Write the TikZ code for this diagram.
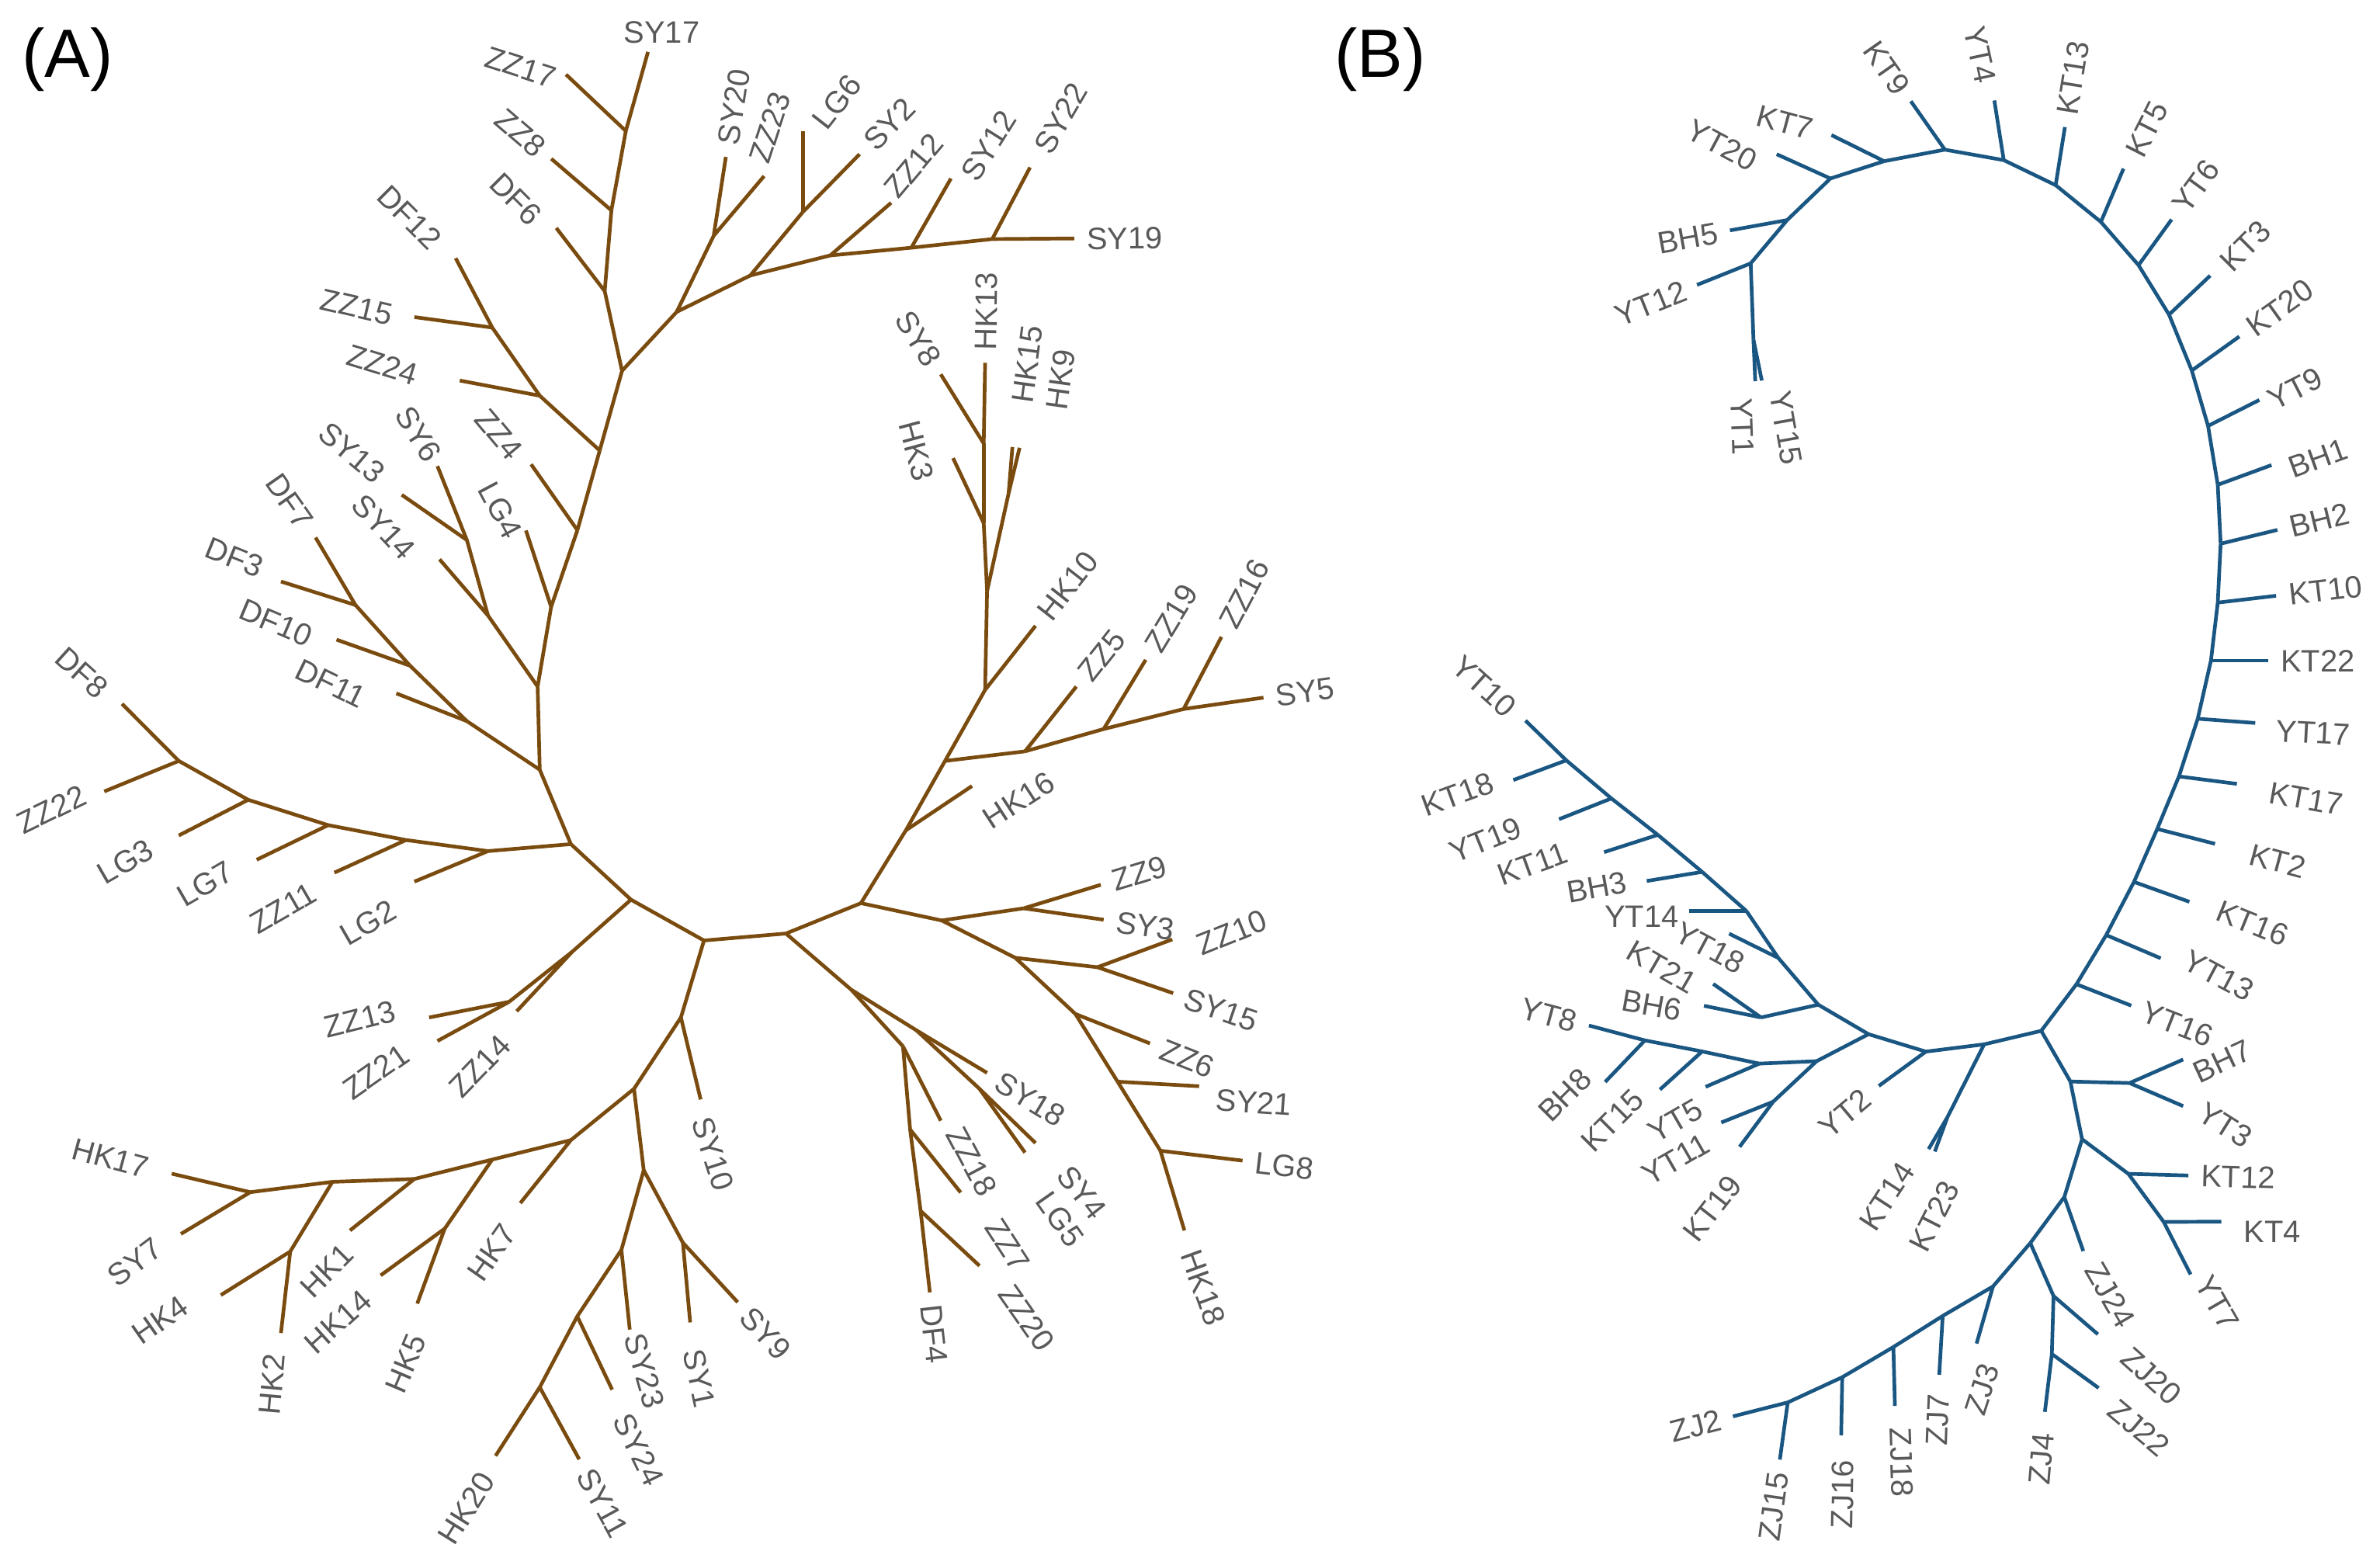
\documentclass[tikz,border=0pt]{standalone}
\usepackage{fontspec}
\setmainfont{Liberation Sans}
\definecolor{treebrown}{RGB}{122,75,15}
\definecolor{treeblue}{RGB}{26,86,130}
\definecolor{labgray}{RGB}{89,89,89}
\tikzset{
  lab/.style={font=\fontsize{10.2}{11}\selectfont,text=labgray,inner xsep=4pt,inner ysep=0pt,text height=7.3pt,text depth=0pt},
  panel/.style={font=\fontsize{22.5}{25}\selectfont,inner sep=0pt,anchor=base west}
}
\newcommand\fork[3]{\coordinate (#1) at (#3); \draw[br] (#2) -- (#1);}
\newcommand\leaf[4]{%
  \coordinate (#1) at (#3);
  \draw[br] (#2) -- (#1);
  \pgfmathanglebetweenpoints{\pgfpointanchor{#2}{center}}{\pgfpointanchor{#1}{center}}%
  \let\lfang\pgfmathresult
  \def\lfanc{west}%
  \ifdim\lfang pt>90pt\relax
    \ifdim\lfang pt<270pt\relax
      \pgfmathsetmacro\lfang{\lfang-180}\def\lfanc{east}%
    \fi
  \fi
  \node[lab,rotate=\lfang,anchor=\lfanc] (t#1) at (#1) {#4};
}
\newcommand\leafat[6]{%
  \coordinate (#1) at (#3);
  \draw[br] (#2) -- (#1);
  \node[lab,rotate=#5] (t#1) at (#4) {#6};
}

\begin{document}
\begin{tikzpicture}[x=0.5pt,y=-0.5pt]
\useasboundingbox (0,0) rectangle (1568,1031);

\node[panel] (panA) at (14,51) {(A)};
\node[panel] (panB) at (879,51) {(B)};

\begin{scope}[br/.style={draw=treebrown,line width=1.2pt}]
\coordinate (a10) at (376.1,556.1);
\fork{a9}{a10}{355.6,507.1}
\fork{a8}{a9}{354.2,452.3}
\fork{a7}{a8}{363.1,399.8}
\fork{a6}{a7}{380.4,349.3}
\fork{a5}{a6}{395.1,296.8}
\fork{a4}{a5}{409.8,244.3}
\fork{a3}{a4}{398.4,191.8}
\fork{a2}{a3}{402.8,138.6}
\fork{a1}{a2}{412.3,86.3}
\leafat{SY17}{a1}{426.9,34.2}{436,21}{0}{SY17}
\leafat{ZZ17}{a1}{372.9,49.1}{343,44}{-18}{ZZ17}
\leaf{ZZ8}{a2}{363.2,104.6}{ZZ8}
\leafat{DF6}{a3}{366.5,150.2}{340,131}{-45}{DF6}
\leafat{ZZ4}{a6}{349.9,305.9}{329,286}{-50}{ZZ4}
\leafat{LG4}{a7}{346.5,349.5}{330,336}{-62}{LG4}
\fork{m1}{a5}{355.6,260.7}
\fork{m2}{m1}{324.3,215.8}
\leafat{DF12}{m2}{300.2,170.1}{270,143}{-45}{DF12}
\leafat{ZZ15}{m2}{273,208.9}{235,202}{-13}{ZZ15}
\leafat{ZZ24}{m1}{302.9,250.7}{252,240}{-17}{ZZ24}
\fork{k1}{a8}{321.5,405.5}
\leafat{SY14}{k1}{289.6,368.5}{253,347}{-47}{SY14}
\fork{k2}{k1}{307.6,355.8}
\leafat{SY6}{k2}{288.2,307.1}{276,286}{-58}{SY6}
\leafat{SY13}{k2}{264.7,326}{232,298}{-40}{SY13}
\fork{p1}{a9}{307.6,475.1}
\leafat{DF11}{p1}{261.1,456.8}{218,450}{-26}{DF11}
\fork{p2}{p1}{270.2,438.6}
\leafat{DF10}{p2}{221.7,421.4}{182,410}{-23}{DF10}
\fork{p3}{p2}{234.2,398.6}
\leafat{DF3}{p3}{185.1,383.1}{154.5,367}{-22}{DF3}
\leafat{DF7}{p3}{207.9,354.1}{191,330}{-55}{DF7}
\fork{q1}{a10}{321.5,560.7}
\leafat{LG2}{q1}{273,580.8}{242.5,607.5}{30}{LG2}
\fork{q2}{q1}{267.5,553.4}
\leafat{ZZ11}{q2}{220.3,574.9}{186.5,598}{30}{ZZ11}
\fork{q3}{q2}{216.2,543.6}
\leafat{LG7}{q3}{169.1,566.4}{135,582}{30}{LG7}
\fork{q4}{q3}{163.5,526.9}
\leafat{LG3}{q4}{117.8,550.4}{82.5,567.5}{30}{LG3}
\fork{q5}{q4}{117.8,501.3}
\leafat{ZZ22}{q5}{68.7,521.4}{34,533}{26}{ZZ22}
\leafat{DF8}{q5}{80.4,463.7}{54,443}{-42}{DF8}
\fork{z1}{a10}{415.7,592.7}
\fork{z2}{z1}{377,627}
\leafat{ZZ14}{z2}{340.4,666.2}{316,702}{46}{ZZ14}
\fork{z3}{z2}{335.4,660}
\leafat{ZZ13}{z3}{282.7,670.3}{237,671}{14}{ZZ13}
\leafat{ZZ21}{z3}{288.2,685.8}{247.5,706}{35}{ZZ21}
\fork{a11}{z1}{463.8,619.6}
\fork{s1}{a11}{448.6,670.3}
\leafat{SY10}{s1}{461.6,724.3}{470,760}{-72}{SY10}
\fork{s2}{s1}{417.7,717.3}
\fork{h1}{s2}{376.1,751.1}
\leafat{HK7}{h1}{342.8,792.6}{323.7,825}{55}{HK7}
\fork{h2}{h1}{324.3,763.9}
\fork{h3}{h2}{293,809.4}
\leafat{HK14}{h3}{250.8,840.2}{222.5,870.5}{42}{HK14}
\leafat{HK5}{h3}{274.9,858.8}{267,898}{67}{HK5}
\fork{h4}{h2}{273,776.7}
\leafat{HK1}{h4}{230.6,810.6}{215,837}{45}{HK1}
\fork{h5}{h4}{219,778.6}
\fork{h6}{h5}{191.2,824.5}
\leafat{HK4}{h6}{145.5,853.2}{105.4,869.4}{35}{HK4}
\leafat{HK2}{h6}{185.1,878.2}{179,912}{85}{HK2}
\fork{h7}{h5}{164.9,785.4}
\leafat{HK17}{h7}{113.1,773.2}{72.7,762.7}{-15}{HK17}
\leafat{SY7}{h7}{119.2,812.9}{88.7,831.5}{37}{SY7}
\fork{s3}{s2}{424.1,770.9}
\fork{y1}{s3}{449.9,818.7}
\leafat{SY1}{y1}{454.7,871.2}{461,908}{-78}{SY1}
\leaf{SY9}{y1}{486,857.9}{SY9}
\fork{s4}{s3}{409.4,823.4}
\leafat{SY23}{s4}{414.9,875.9}{425,903}{-74}{SY23}
\fork{s5}{s4}{380.3,867.2}
\leafat{SY24}{s5}{403.3,915.5}{421,955}{-64}{SY24}
\fork{s6}{s5}{355.6,913.9}
\leafat{HK20}{s6}{326.5,959.1}{307,993.5}{58}{HK20}
\leaf{SY11}{s6}{381.6,961.4}{SY11}
\fork{r1}{a11}{517.8,615}
\fork{r2}{r1}{567.2,595}
\fork{w0}{r1}{560.8,652}
\fork{w1}{w0}{594.9,689.3}
\leafat{ZZ18}{w1}{619.8,738.3}{640.5,765}{-62}{ZZ18}
\fork{x1}{w1}{599.6,744.1}
\leafat{ZZ7}{x1}{632.9,785.6}{664,820}{-57}{ZZ7}
\fork{x2}{x1}{606.5,797.7}
\leafat{ZZ20}{x2}{645.3,833.9}{676.5,868}{-55}{ZZ20}
\leaf{DF4}{x2}{612.6,851.4}{DF4}
\fork{w2}{w0}{603.8,678.8}
\leaf{SY18}{w2}{650.3,706.8}{SY18}
\fork{w3}{w2}{645.3,717.3}
\leafat{SY4}{w3}{682.2,753}{713,785.5}{-52}{SY4}
\leafat{LG5}{w3}{675.3,759.3}{698.7,803}{-55}{LG5}
\fork{t1}{r2}{596.8,547}
\leafat{HK16}{t1}{640.4,517.8}{671,527}{33}{HK16}
\fork{t2}{t1}{622.6,501.3}
\fork{t3}{t2}{649,454.5}
\leaf{HK10}{t3}{682.2,412.3}{HK10}
\fork{b0}{t3}{650.3,389.5}
\fork{b1}{b0}{648.1,344.7}
\leafat{HK3}{b1}{627.9,301.8}{604,297}{-75}{HK3}
\fork{b2}{b1}{648.1,292.2}
\leaf{SY8}{b2}{619.8,246.6}{SY8}
\leaf{HK13}{b2}{649,239}{HK13}
\fork{b3}{b0}{664.5,325}
\leafat{HK15}{b3}{667,294.5}{676.5,240}{82}{HK15}
\leafat{HK9}{b3}{671.7,295}{698.7,250}{82}{HK9}
\fork{u1}{t2}{675.3,495}
\leaf{ZZ5}{u1}{709.1,452.3}{ZZ5}
\fork{u2}{u1}{727.1,480.3}
\leaf{ZZ19}{u2}{754.8,434.7}{ZZ19}
\fork{u3}{u2}{779.8,467.1}
\leaf{ZZ16}{u3}{804.7,419.6}{ZZ16}
\leaf{SY5}{u3}{832.4,459.6}{SY5}
\fork{v1}{r2}{620.4,606.4}
\fork{v2}{v1}{674.4,598.4}
\leaf{ZZ9}{v2}{725.2,582.9}{ZZ9}
\leaf{SY3}{v2}{727.1,605.9}{SY3}
\fork{v3}{v1}{668.9,631}
\fork{v4}{v3}{723,637.2}
\leafat{ZZ10}{v4}{772.3,618.9}{811.5,614}{22}{ZZ10}
\leaf{SY15}{v4}{772.9,654.3}{SY15}
\fork{v5}{v3}{708.5,668}
\leaf{ZZ6}{v5}{757.6,687.4}{ZZ6}
\fork{v6}{v5}{736.3,712.6}
\leafat{SY21}{v6}{790,715.6}{826,726}{-4}{SY21}
\fork{v7}{v6}{764.5,758.1}
\leaf{LG8}{v7}{818.6,764.6}{LG8}
\leafat{HK18}{v7}{780.3,810.6}{793,848}{-70}{HK18}
\fork{c1a}{a4}{445.8,205.5}
\fork{c2a}{c1a}{470.2,155.3}
\leaf{SY20}{c2a}{478.2,103.4}{SY20}
\leafat{ZZ23}{c2a}{503.4,116}{507,84}{72}{ZZ23}
\fork{c3a}{c1a}{494.3,181.5}
\fork{c4a}{c3a}{528.9,139.7}
\leafat{LG6}{c4a}{528.9,86.3}{551,67}{52}{LG6}
\leaf{SY2}{c4a}{566.3,101.6}{SY2}
\fork{c5a}{c3a}{547,168.3}
\leafat{ZZ12}{c5a}{587.1,133.6}{601.7,109}{50}{ZZ12}
\fork{c6a}{c5a}{600.4,163.2}
\leafat{SY12}{c6a}{626.5,117.6}{651,96}{58}{SY12}
\fork{c7a}{c6a}{653.7,157.5}
\leafat{SY22}{c7a}{678.6,110.3}{698.7,78}{60}{SY22}
\leaf{SY19}{c7a}{707.7,157.1}{SY19}
\end{scope}

\begin{scope}[br/.style={draw=treeblue,line width=1.2pt}]
\coordinate (c24) at (1344.8,679.1);
\fork{c23}{c24}{1368,648.4}
\leaf{YT16}{c23}{1404.1,662.5}{YT16}
\fork{c22}{c23}{1387.6,616}
\leafat{YT13}{c22}{1423.5,631.3}{1462,642.5}{-28}{YT13}
\fork{c21}{c22}{1405.9,581}
\leafat{KT16}{c21}{1442.4,594.1}{1484,608}{-22}{KT16}
\fork{c20}{c21}{1421.2,546.1}
\leafat{KT2}{c20}{1459.3,555.9}{1500.5,567}{-15}{KT2}
\fork{c19}{c20}{1435.5,511.5}
\leafat{KT17}{c19}{1473.7,516.4}{1519.4,526}{-10}{KT17}
\fork{c18}{c19}{1447.9,473.5}
\leafat{YT17}{c18}{1485.8,476.3}{1524,482.5}{-3}{YT17}
\fork{c17}{c18}{1456.6,435.2}
\leaf{KT22}{c17}{1494.2,435.2}{KT22}
\fork{c16}{c17}{1461.1,397}
\leaf{KT10}{c16}{1499.5,392.5}{KT10}
\fork{c15}{c16}{1463,358.2}
\leaf{BH2}{c15}{1500.4,349.1}{BH2}
\fork{c14}{c15}{1461.1,319.4}
\leafat{BH1}{c14}{1496.5,306.4}{1527,301.5}{20}{BH1}
\fork{c13}{c14}{1454.7,280.6}
\leafat{YT9}{c13}{1488.5,263.5}{1512,256}{27}{YT9}
\fork{c12}{c13}{1444,244.1}
\leaf{KT20}{c12}{1475.3,221.7}{KT20}
\fork{c10}{c12}{1429,207.3}
\leafat{KT3}{c10}{1456.1,181.6}{1479,162}{45}{KT3}
\fork{c9}{c10}{1408.9,174.7}
\leaf{YT6}{c9}{1430.7,144.6}{YT6}
\fork{c8}{c9}{1384.1,146.2}
\leafat{KT5}{c8}{1399,111.1}{1414,85}{63}{KT5}
\fork{c7}{c8}{1354.3,122}
\leaf{KT13}{c7}{1360.4,83.7}{KT13}
\fork{c6}{c7}{1320.1,105.5}
\leafat{YT4}{c6}{1313.9,66.2}{1304.7,36}{-78}{YT4}
\fork{c5}{c6}{1281.3,98.6}
\leaf{KT9}{c5}{1258.9,66.7}{KT9}
\fork{c4}{c5}{1241.3,106.2}
\leafat{KT7}{c4}{1206.6,89}{1176,80.5}{-15}{KT7}
\fork{c3}{c4}{1205.9,117.6}
\leafat{YT20}{c3}{1170.5,101.6}{1134.6,95.4}{-28}{YT20}
\fork{c2}{c3}{1177.4,145}
\leaf{BH5}{c2}{1139.7,151.8}{BH5}
\fork{c0}{c2}{1153.4,173.5}
\leaf{YT12}{c0}{1118,187.7}{YT12}
\fork{c1}{c0}{1155.2,223.7}
\leafat{YT1}{c1}{1156.4,251.1}{1148,281}{-88}{YT1}
\leafat{YT15}{c1}{1160.7,250.7}{1177,282}{-80}{YT15}
\fork{c25}{c24}{1364,712.5}
\fork{c26}{c25}{1403,713.5}
\leafat{BH7}{c26}{1438.3,698}{1464,699}{25}{BH7}
\leafat{YT3}{c26}{1438.3,728.7}{1466,741}{-32}{YT3}
\fork{c27}{c25}{1371.7,750.5}
\fork{c28}{c27}{1402.2,773.3}
\leaf{KT12}{c28}{1441.7,774.4}{KT12}
\fork{c29}{c28}{1425.5,805}
\leafat{KT4}{c29}{1463.4,804.8}{1497,811}{0}{KT4}
\leafat{YT7}{c29}{1443.2,839.6}{1461,858}{-60}{YT7}
\fork{c30}{c27}{1360,788.6}
\leafat{ZJ24}{c30}{1372.5,824.2}{1390.6,853}{-60}{ZJ24}
\fork{c34}{c30}{1337.6,818.9}
\fork{f1}{c34}{1352.9,853.8}
\leafat{ZJ20}{f1}{1382.1,879}{1417.4,906.3}{-42}{ZJ20}
\fork{f2}{f1}{1351.8,892}
\leafat{ZJ22}{f2}{1382.6,914.4}{1409.4,940.5}{-40}{ZJ22}
\leafat{ZJ4}{f2}{1347.2,930.1}{1344.4,961}{85}{ZJ4}
\fork{c35}{c34}{1313,847.5}
\leafat{ZJ3}{c35}{1302.2,885.1}{1305.5,915.3}{72}{ZJ3}
\fork{c36}{c35}{1279.9,866.9}
\leafat{ZJ7}{c36}{1277.6,905.7}{1276.4,935.3}{88}{ZJ7}
\fork{c37}{c36}{1247.4,887.4}
\leafat{ZJ18}{c37}{1248.4,926.2}{1253,963.3}{-88}{ZJ18}
\fork{c38}{c37}{1213.7,907.3}
\leafat{ZJ16}{c38}{1213,945.6}{1213.7,984.5}{89}{ZJ16}
\fork{c39}{c38}{1177.8,923.9}
\leaf{ZJ15}{c39}{1172.6,961.6}{ZJ15}
\leaf{ZJ2}{c39}{1141.7,933.1}{ZJ2}
\fork{c31}{c24}{1307.2,688}
\fork{g1}{c31}{1283,736}
\leafat{KT14}{g1}{1270.6,757}{1242.8,788}{57}{KT14}
\leafat{KT23}{g1}{1274.7,758.6}{1274.2,801.2}{63}{KT23}
\fork{c32}{c31}{1268.8,692.8}
\leafat{YT2}{c32}{1237.8,715.4}{1215.5,733.5}{40}{YT2}
\fork{e9}{c32}{1231,681.3}
\fork{e7}{e9}{1197.9,661.9}
\fork{e8}{e7}{1160.2,670.3}
\leafat{KT21}{e8}{1128.7,648.2}{1095,636.8}{-30}{KT21}
\leafat{BH6}{e8}{1122.6,662.6}{1088.3,662}{-10}{BH6}
\fork{e6}{e7}{1171.6,631.1}
\leafat{YT18}{e6}{1139.2,615.1}{1126.6,624.2}{-28}{YT18}
\fork{e5}{e6}{1150.6,600.2}
\leafat{YT14}{e5}{1112.7,600.2}{1081.5,603.5}{0}{YT14}
\fork{e4}{e5}{1121.4,574.4}
\leafat{BH3}{e4}{1084.9,580.4}{1052,584.3}{10}{BH3}
\fork{e3}{e4}{1092.2,550}
\leafat{KT11}{e3}{1056.8,561.4}{1009.5,569}{20}{KT11}
\fork{e2}{e3}{1061.6,526}
\leafat{YT19}{e2}{1027.1,539.7}{978.7,553}{22}{YT19}
\fork{e1}{e2}{1031.9,500.9}
\leafat{KT18}{e1}{997,513.9}{960,523}{20}{KT18}
\leafat{YT10}{e1}{1005,474.7}{978,452}{-42}{YT10}
\fork{e10}{e9}{1196.8,699.1}
\fork{e11}{e10}{1159.1,700.7}
\leafat{YT5}{e11}{1123.7,716}{1103.7,738}{30}{YT5}
\fork{e13}{e11}{1121.4,692.7}
\leafat{KT15}{e13}{1093.6,717.8}{1062,738}{45}{KT15}
\fork{e14}{e13}{1083.7,685.4}
\leafat{BH8}{e14}{1057.5,712.8}{1030.7,721.3}{45}{BH8}
\leaf{YT8}{e14}{1046.8,675.6}{YT8}
\fork{e12}{e10}{1168.2,725.8}
\leafat{YT11}{e12}{1134,739.5}{1103.7,763.5}{30}{YT11}
\leafat{KT19}{e12}{1146.1,755.5}{1128,796}{52}{KT19}
\end{scope}
\end{tikzpicture}
\end{document}
